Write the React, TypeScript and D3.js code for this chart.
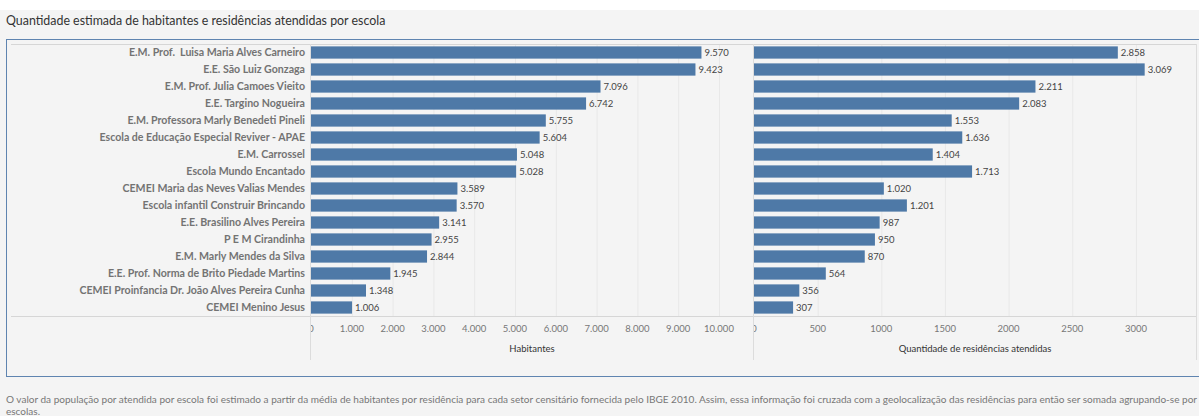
import React from "react";
import * as d3 from "d3";

const schools = [
  "E.M. Prof.  Luisa Maria Alves Carneiro",
  "E.E. São Luiz Gonzaga",
  "E.M. Prof. Julia Camoes Vieito",
  "E.E. Targino Nogueira",
  "E.M. Professora Marly Benedeti Pineli",
  "Escola de Educação Especial Reviver - APAE",
  "E.M. Carrossel",
  "Escola Mundo Encantado",
  "CEMEI Maria das Neves Valias Mendes",
  "Escola infantil Construir Brincando",
  "E.E. Brasilino Alves Pereira",
  "P E M Cirandinha",
  "E.M. Marly Mendes da Silva",
  "E.E. Prof. Norma de Brito Piedade Martins",
  "CEMEI Proinfancia Dr. João Alves Pereira Cunha",
  "CEMEI Menino Jesus",
];
const habitantes = [9570, 9423, 7096, 6742, 5755, 5604, 5048, 5028, 3589, 3570, 3141, 2955, 2844, 1945, 1348, 1006];
const residencias = [2858, 3069, 2211, 2083, 1553, 1636, 1404, 1713, 1020, 1201, 987, 950, 870, 564, 356, 307];
const habTicks = [0, 1000, 2000, 3000, 4000, 5000, 6000, 7000, 8000, 9000, 10000];
const resTicks = [0, 500, 1000, 1500, 2000, 2500, 3000];

const title = "Quantidade estimada de habitantes e residências atendidas por escola";
const footLine1 =
  "O valor da população por atendida por escola foi estimado a partir da média de habitantes por residência para cada setor censitário fornecida pelo IBGE 2010. Assim, essa informação foi cruzada com a geolocalização das residências para então ser somada agrupando-se por";
const footLine2 = "escolas.";

const W = 1199;
const H = 416;
const FONT = "Lato, 'Open Sans', sans-serif";
const BAR = "#4e79a7";

const dotFmt = (v: number) => d3.format(",")(v).replace(/,/g, ".");

export default function App() {
  const rowTop = 44;
  const rowBottom = 316;
  const y = d3
    .scaleBand<string>()
    .domain(schools)
    .range([rowTop, rowBottom])
    .paddingInner(0.28)
    .paddingOuter(0.14);

  const leftX0 = 311;
  const leftX1 = 753;
  const rightX0 = 754;
  const rightX1 = 1196;
  const xL = d3.scaleLinear().domain([0, (leftX1 - leftX0) / 0.0408]).range([leftX0, leftX1]);
  const xR = d3.scaleLinear().domain([0, (rightX1 - rightX0) / 0.1273]).range([rightX0, rightX1]);

  return (
    <svg
      width={W}
      height={H}
      style={{ position: "absolute", left: 0, top: 0, display: "block" }}
      fontFamily={FONT}
    >
      <defs>
        <clipPath id="clipL">
          <rect x={leftX0} y={0} width={leftX1 - leftX0} height={H} />
        </clipPath>
        <clipPath id="clipR">
          <rect x={rightX0} y={0} width={rightX1 - rightX0} height={H} />
        </clipPath>
      </defs>
      <rect x={0} y={0} width={W} height={H} fill="#ffffff" />
      <rect x={0} y={10} width={W} height={H - 10} fill="#f4f4f4" />
      <text x={6} y={25} fontSize={12.4} fill="#333333">
        {title}
      </text>
      {/* panel border */}
      <rect x={6.5} y={39.5} width={W + 10} height={337} fill="#f4f4f4" stroke="#5f84b0" strokeWidth={1} />

      {/* gridlines */}
      {habTicks.slice(1).map((t) => (
        <line key={"gl" + t} x1={xL(t) + 0.5} x2={xL(t) + 0.5} y1={rowTop} y2={rowBottom} stroke="#e8e8e8" />
      ))}
      {resTicks.slice(1).map((t) => (
        <line key={"gr" + t} x1={xR(t) + 0.5} x2={xR(t) + 0.5} y1={rowTop} y2={rowBottom} stroke="#e8e8e8" />
      ))}

      {/* horizontal frame lines */}
      <line x1={11} x2={rightX1} y1={rowTop + 0.5} y2={rowTop + 0.5} stroke="#d6d6d6" />
      <line x1={11} x2={rightX1} y1={rowBottom + 0.5} y2={rowBottom + 0.5} stroke="#d6d6d6" />
      {/* vertical dividers */}
      <line x1={leftX0 - 0.5} x2={leftX0 - 0.5} y1={rowTop} y2={360} stroke="#dcdcdc" />
      <line x1={leftX1 + 0.5} x2={leftX1 + 0.5} y1={rowTop} y2={360} stroke="#dcdcdc" />
      <line x1={rightX1 + 0.5} x2={rightX1 + 0.5} y1={rowTop} y2={360} stroke="#dcdcdc" />

      {/* row labels */}
      {schools.map((s) => (
        <text
          key={"lab" + s}
          x={305}
          y={(y(s) as number) + y.bandwidth() / 2}
          dy="0.35em"
          textAnchor="end"
          fontSize={10.6}
          fontWeight={700}
          fill="#737373"
          style={{ whiteSpace: "pre" }}
        >
          {s}
        </text>
      ))}

      {/* left bars */}
      {schools.map((s, i) => (
        <g key={"bl" + s}>
          <rect
            x={xL(0)}
            y={y(s) as number}
            width={xL(habitantes[i]) - xL(0)}
            height={y.bandwidth()}
            fill={BAR}
          />
          <text
            x={xL(habitantes[i]) + 3}
            y={(y(s) as number) + y.bandwidth() / 2}
            dy="0.35em"
            fontSize={9.5}
            fill="#444444"
          >
            {dotFmt(habitantes[i])}
          </text>
        </g>
      ))}

      {/* right bars */}
      {schools.map((s, i) => (
        <g key={"br" + s}>
          <rect
            x={xR(0)}
            y={y(s) as number}
            width={xR(residencias[i]) - xR(0)}
            height={y.bandwidth()}
            fill={BAR}
          />
          <text
            x={xR(residencias[i]) + 3}
            y={(y(s) as number) + y.bandwidth() / 2}
            dy="0.35em"
            fontSize={9.5}
            fill="#444444"
          >
            {dotFmt(residencias[i])}
          </text>
        </g>
      ))}

      {/* axis ticks */}
      <g clipPath="url(#clipL)">
        {habTicks.map((t) => (
          <text key={"tl" + t} x={xL(t)} y={332} textAnchor="middle" fontSize={9.5} fill="#777777">
            {dotFmt(t)}
          </text>
        ))}
      </g>
      <g clipPath="url(#clipR)">
        {resTicks.map((t) => (
          <text key={"tr" + t} x={xR(t)} y={332} textAnchor="middle" fontSize={9.5} fill="#777777">
            {String(t)}
          </text>
        ))}
      </g>
      <text x={(leftX0 + leftX1) / 2} y={352} textAnchor="middle" fontSize={9.5} fill="#333333">
        Habitantes
      </text>
      <text x={(rightX0 + rightX1) / 2} y={352} textAnchor="middle" fontSize={9.5} fill="#333333">
        Quantidade de residências atendidas
      </text>

      {/* footnote */}
      <text x={6} y={403} fontSize={10} fill="#777777" textLength={1191} lengthAdjust="spacingAndGlyphs">
        {footLine1}
      </text>
      <text x={6} y={415} fontSize={10} fill="#777777">
        {footLine2}
      </text>
    </svg>
  );
}
